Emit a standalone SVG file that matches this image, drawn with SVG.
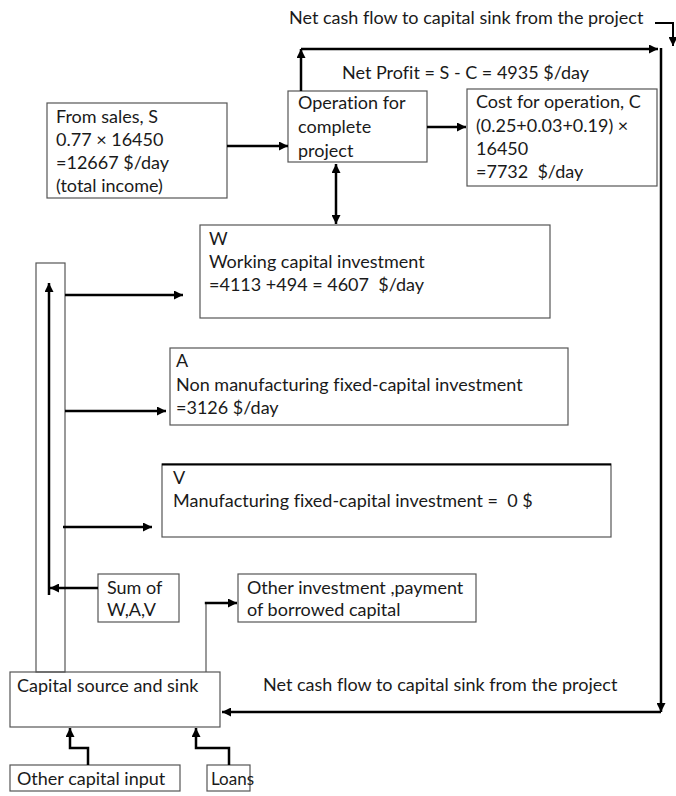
<svg xmlns="http://www.w3.org/2000/svg" width="676" height="796" viewBox="0 0 676 796">
<defs>
<marker id="ah" viewBox="0 0 10 10" refX="10" refY="5" markerWidth="10" markerHeight="9" markerUnits="userSpaceOnUse" orient="auto-start-reverse"><path d="M0,0 L10,5 L0,10 z" fill="#000"/></marker>
</defs>
<style>
text{font-family:Lato,"Liberation Sans",Arial,sans-serif;font-size:18px;fill:#1a1a1a;font-variant-ligatures:none;white-space:pre}
.box{fill:#fff;stroke:#555;stroke-width:1.2}
.c{fill:none;stroke:#000;stroke-width:2.5}
.t{fill:none;stroke:#555;stroke-width:1.2}
</style>
<rect width="676" height="796" fill="#fff"/>
<g id="sales"><rect class="box" x="47" y="103" width="180" height="95"/>
<text x="56" y="123">From sales, S</text><text x="56" y="146">0.77 × 16450</text><text x="56" y="169">=12667 $/day</text><text x="56" y="192">(total income)</text></g>
<g id="operation"><rect class="box" x="288" y="91" width="139" height="71"/>
<text x="298" y="109">Operation for</text><text x="298" y="133">complete</text><text x="298" y="157">project</text></g>
<g id="cost"><rect class="box" x="467" y="89" width="190" height="97"/>
<text x="476" y="108">Cost for operation, C</text><text x="476" y="132">(0.25+0.03+0.19) ×</text><text x="476" y="155">16450</text><text x="476" y="178" xml:space="preserve">=7732  $/day</text></g>
<g id="w"><rect class="box" x="200" y="225" width="350" height="93"/>
<text x="209" y="245">W</text><text x="209" y="268">Working capital investment</text><text x="209" y="291" xml:space="preserve">=4113 +494 = 4607  $/day</text></g>
<g id="a"><rect class="box" x="170" y="348" width="398" height="77"/>
<text x="176" y="367">A</text><text x="176" y="391">Non manufacturing fixed-capital investment</text><text x="176" y="414">=3126 $/day</text></g>
<g id="v"><rect class="box" x="162" y="464" width="449" height="73"/><line x1="162" y1="464.5" x2="611" y2="464.5" stroke="#000" stroke-width="2"/>
<text x="173" y="484">V</text><text x="173" y="507" xml:space="preserve">Manufacturing fixed-capital investment =  0 $</text></g>
<g id="sum"><rect class="box" x="98" y="574" width="81" height="48"/>
<text x="107" y="594">Sum of</text><text x="107" y="616">W,A,V</text></g>
<g id="other-investment"><rect class="box" x="238" y="574" width="238" height="48"/>
<text x="247" y="594">Other investment ,payment</text><text x="247" y="616">of borrowed capital</text></g>
<g id="capital"><rect class="box" x="10" y="672" width="210" height="55"/>
<text x="17" y="692">Capital source and sink</text></g>
<g id="other-capital"><rect class="box" x="10" y="765" width="170" height="26"/>
<text x="17" y="785">Other capital input</text></g>
<g id="loans"><rect class="box" x="207" y="765" width="43" height="26"/>
<text x="211" y="785" style="font-size:17px">Loans</text></g>
<g id="labels">
<text x="289" y="24">Net cash flow to capital sink from the project</text>
<text x="342" y="79">Net Profit = S - C = 4935 $/day</text>
<text x="263" y="691">Net cash flow to capital sink from the project</text>
</g>
<g id="connectors">
<rect class="t" x="36" y="263" width="29" height="409"/>
<line class="t" x1="206" y1="672" x2="206" y2="603"/>
<path class="c" d="M204.8,603 H237" marker-end="url(#ah)"/>
<path class="c" style="stroke-width:2" d="M655,23 H673 V46" marker-end="url(#ah)"/>
<path class="c" d="M301,91 V49" marker-end="url(#ah)"/>
<path class="c" d="M301,49 H658" marker-end="url(#ah)"/>
<path class="c" d="M661,48 V712" marker-end="url(#ah)"/>
<path class="c" d="M661,712 H222" marker-end="url(#ah)"/>
<path class="c" d="M227,146 H288" marker-end="url(#ah)"/>
<path class="c" d="M427,127 H466" marker-end="url(#ah)"/>
<path class="c" d="M336,164 V224" marker-start="url(#ah)" marker-end="url(#ah)"/>
<path class="c" d="M49,595 V283" marker-end="url(#ah)"/>
<path class="c" d="M98,588 H50" marker-end="url(#ah)"/>
<path class="c" d="M65,295 H183" marker-end="url(#ah)"/>
<path class="c" d="M65,411 H166" marker-end="url(#ah)"/>
<path class="c" d="M63,527 H152" marker-end="url(#ah)"/>
<path class="c" d="M88,765 V748 H70 V728" marker-end="url(#ah)"/>
<path class="c" d="M229,765 V748 H196 V728" marker-end="url(#ah)"/>
</g>
</svg>
